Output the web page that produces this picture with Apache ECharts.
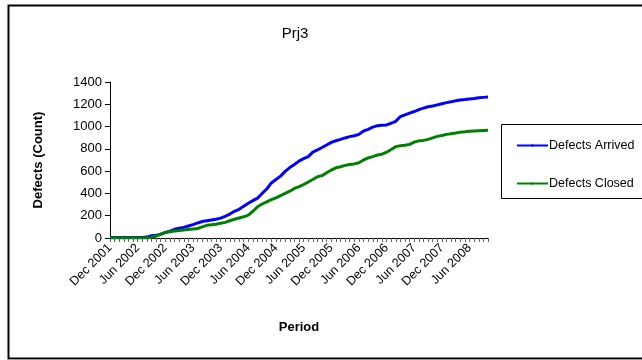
<!DOCTYPE html>
<html><head><meta charset="utf-8">
<script src="https://cdn.jsdelivr.net/npm/echarts@6/dist/echarts.min.js"></script>
<style>html,body{margin:0;padding:0;background:#fff}#c{width:642px;height:360px}</style>
</head><body><div id="c"></div>
<script>
const months = ['Jan','Feb','Mar','Apr','May','Jun','Jul','Aug','Sep','Oct','Nov','Dec'];
const categories = [];
for (let y = 2001; y <= 2008; y++) for (let m = 0; m < 12; m++) {
  if ((y === 2001 && m < 11) || (y === 2008 && m > 9)) continue;
  categories.push(months[m] + ' ' + y);
}
const defectsArrived = [5,5,5,5,5,5,5,5,8,20,24,35,50,62,78,88,95,108,120,135,148,155,162,168,178,195,215,240,258,285,312,335,358,400,440,494,525,555,598,632,660,690,712,730,770,790,812,835,858,873,885,898,910,918,930,960,975,995,1008,1012,1015,1030,1047,1090,1105,1120,1135,1152,1165,1178,1185,1195,1205,1215,1222,1232,1238,1242,1247,1252,1258,1262,1265];
const defectsClosed = [0,0,0,0,0,0,0,0,0,5,18,32,48,56,63,68,72,76,80,85,100,114,118,124,132,140,155,168,180,190,205,240,280,305,325,344,360,380,400,420,445,462,480,502,525,550,560,585,610,630,640,652,660,665,675,700,718,730,745,752,770,795,820,828,832,840,860,872,876,885,898,912,920,930,936,942,950,953,957,960,963,965,966];
const seriesNames = ['Defects Arrived','Defects Closed'];
const font = 'Liberation Sans, Arial, sans-serif';
const chart = echarts.init(document.getElementById('c'), null, {renderer:'canvas'});
chart.setOption({
  animation:false,
  backgroundColor:'#fff',
  title:{text:'Prj3', left:290, top:21, textAlign:'center',
    textStyle:{fontFamily:font, fontSize:15, fontWeight:'normal', color:'#000'}},
  graphic:[
    {type:'rect', shape:{x:8.5,y:5.5,width:700,height:353}, style:{fill:'none', stroke:'#000', lineWidth:2}, silent:true},
    {type:'line', shape:{x1:8,y1:359.5,x2:642,y2:359.5}, style:{stroke:'#999', lineWidth:1}, silent:true},
    {type:'rect', shape:{x:501.5,y:124.5,width:200,height:74}, style:{fill:'#fff', stroke:'#000', lineWidth:1}, silent:true, z:-1}
  ],
  legend:{orient:'vertical', left:511, top:134, itemGap:25, itemWidth:31, itemHeight:3,
    data:seriesNames,
    textStyle:{fontFamily:font, fontSize:12.5, color:'#000', padding:[0,0,0,-4]}},
  grid:{left:110, right:154, top:82, bottom:122},
  xAxis:{type:'category', data:categories, boundaryGap:false,
    name:'Period', nameLocation:'middle', nameGap:83,
    nameTextStyle:{fontFamily:font, fontSize:13, fontWeight:'bold', color:'#000'},
    axisLine:{lineStyle:{color:'#000', width:1}},
    axisTick:{interval:0, length:4, lineStyle:{color:'#666'}},
    axisLabel:{interval:5, rotate:45, fontFamily:font, fontSize:12.5, color:'#000', margin:8},
    splitLine:{show:false}},
  yAxis:{type:'value', min:0, max:1400, interval:200,
    name:'Defects (Count)', nameLocation:'middle', nameGap:65, nameRotate:90,
    nameTextStyle:{fontFamily:font, fontSize:13, fontWeight:'bold', color:'#000'},
    axisLine:{show:true, lineStyle:{color:'#000', width:1}},
    axisTick:{show:true, length:5, lineStyle:{color:'#000'}},
    axisLabel:{fontFamily:font, fontSize:13, color:'#000', margin:8, formatter:function(v){return String(v);}},
    splitLine:{show:false}},
  series:[
    {name:seriesNames[0], type:'line', data:defectsArrived, symbol:'none', lineStyle:{color:'#0000ff', width:3}, itemStyle:{color:'#0000ff'}},
    {name:seriesNames[1], type:'line', data:defectsClosed, symbol:'none', lineStyle:{color:'#008000', width:3}, itemStyle:{color:'#008000'}}
  ]
});
</script></body></html>
